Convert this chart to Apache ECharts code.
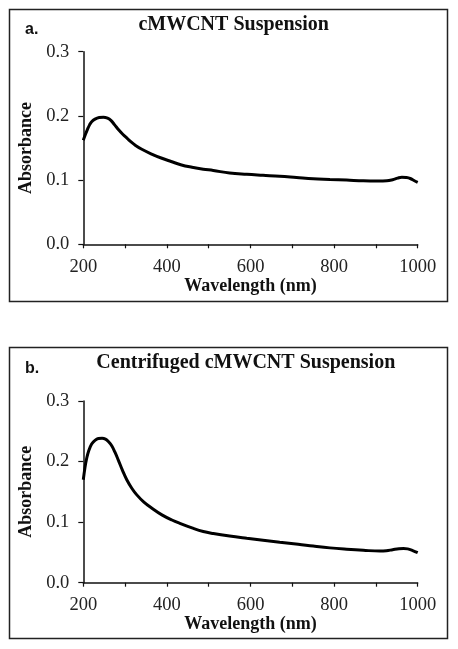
<!DOCTYPE html>
<html>
<head>
<meta charset="utf-8">
<script src="https://cdn.jsdelivr.net/npm/echarts@6/dist/echarts.min.js"></script>
<style>html,body{margin:0;padding:0;background:#fff}#c{width:458px;height:649px}</style>
</head>
<body>
<div id="c"></div>
<script>
// Panel a: cMWCNT Suspension
var wavelengthA = [200, 205, 210, 215, 220, 228, 238, 248, 258, 266, 275, 285, 295, 305, 315, 325, 340, 362, 388, 410, 435, 460, 487, 511, 550, 591, 630, 670, 710, 750, 790, 830, 870, 905, 926, 940, 952, 962, 972, 982, 992, 1000];
var absorbanceA = [0.162, 0.171, 0.179, 0.186, 0.191, 0.195, 0.1975, 0.198, 0.1965, 0.193, 0.186, 0.178, 0.171, 0.165, 0.159, 0.154, 0.148, 0.141, 0.134, 0.129, 0.1235, 0.120, 0.117, 0.115, 0.111, 0.109, 0.1075, 0.106, 0.104, 0.102, 0.101, 0.1, 0.0988, 0.0985, 0.0988, 0.1005, 0.103, 0.1045, 0.104, 0.1025, 0.099, 0.0965];
// Panel b: Centrifuged cMWCNT Suspension
var wavelengthB = [200, 204, 208, 213, 220, 228, 236, 245, 253, 260, 268, 276, 284, 294, 304, 316, 328, 345, 364, 388, 412, 431, 460, 487, 511, 550, 591, 630, 670, 714, 750, 790, 830, 870, 910, 925, 940, 955, 966, 976, 988, 1000];
var absorbanceB = [0.170, 0.190, 0.205, 0.218, 0.229, 0.235, 0.238, 0.2385, 0.237, 0.233, 0.226, 0.215, 0.202, 0.185, 0.170, 0.156, 0.145, 0.133, 0.123, 0.112, 0.1035, 0.098, 0.0905, 0.0845, 0.0812, 0.0770, 0.0733, 0.0700, 0.0667, 0.0635, 0.0605, 0.0575, 0.0553, 0.0535, 0.0522, 0.0528, 0.0545, 0.0562, 0.0566, 0.0558, 0.0530, 0.0495];
var xTicks = [200, 400, 600, 800, 1000];
var yTicks = [0.0, 0.1, 0.2, 0.3];
var titles = ['cMWCNT Suspension', 'Centrifuged cMWCNT Suspension'];
var panelLetters = ['a.', 'b.'];
var xName = 'Wavelength (nm)';
var yName = 'Absorbance';

function pairs(xs, ys){ return xs.map(function(x,i){ return [x, ys[i]]; }); }

var serif = '"Liberation Serif", "Times New Roman", serif';
var chart = echarts.init(document.getElementById('c'), null, {renderer:'canvas'});

function xAxisDef(gi){
  return {
    type:'value', gridIndex:gi, min:xTicks[0], max:xTicks[xTicks.length-1], interval:xTicks[1]-xTicks[0],
    name:xName, nameLocation:'middle', nameGap:31,
    nameTextStyle:{fontFamily:serif, fontWeight:'bold', fontSize:18, color:'#111'},
    axisLine:{show:true, lineStyle:{color:'#111', width:1.5}},
    axisTick:{show:true, length:4, lineStyle:{color:'#111', width:1.2}},
    minorTick:{show:true, splitNumber:2, length:4, lineStyle:{color:'#111', width:1.2}},
    splitLine:{show:false},
    axisLabel:{fontFamily:serif, fontSize:18.5, color:'#222', margin:13,
      formatter:function(v){ return String(v); }}
  };
}
function yAxisDef(gi){
  return {
    type:'value', gridIndex:gi, min:yTicks[0], max:yTicks[yTicks.length-1], interval:yTicks[1]-yTicks[0],
    name:yName, nameLocation:'middle', nameGap:46, nameRotate:90,
    nameTextStyle:{fontFamily:serif, fontWeight:'bold', fontSize:18, color:'#111'},
    axisLine:{show:true, lineStyle:{color:'#111', width:1.5}},
    axisTick:{show:true, length:5, lineStyle:{color:'#111', width:1.2}},
    splitLine:{show:false},
    axisLabel:{fontFamily:serif, fontSize:18.5, color:'#222', margin:14,
      formatter:function(v){ return v.toFixed(1); }}
  };
}

var option = {
  animation:false,
  backgroundColor:'#fff',
  grid:[
    {left:83.3, right:40.3, top:51.7, height:192.6},
    {left:83.3, right:40.3, top:401, height:181.7}
  ],
  xAxis:[xAxisDef(0), xAxisDef(1)],
  yAxis:[yAxisDef(0), yAxisDef(1)],
  series:[
    {type:'line', xAxisIndex:0, yAxisIndex:0, data:pairs(wavelengthA, absorbanceA),
     smooth:0.4, showSymbol:false, lineStyle:{color:'#000', width:3}},
    {type:'line', xAxisIndex:1, yAxisIndex:1, data:pairs(wavelengthB, absorbanceB),
     smooth:0.4, showSymbol:false, lineStyle:{color:'#000', width:3}}
  ],
  graphic:[
    {type:'rect', shape:{x:9.5, y:9.5, width:438, height:292}, style:{fill:null, stroke:'#222', lineWidth:1.5}},
    {type:'rect', shape:{x:9.5, y:347.5, width:438, height:291}, style:{fill:null, stroke:'#222', lineWidth:1.5}},
    {type:'text', x:233.7, y:25, style:{text:titles[0], font:'bold 20px ' + serif, fill:'#111', textAlign:'center', textVerticalAlign:'middle'}},
    {type:'text', x:245.8, y:362.5, style:{text:titles[1], font:'bold 20px ' + serif, fill:'#111', textAlign:'center', textVerticalAlign:'middle'}},
    {type:'text', x:25, y:30, style:{text:panelLetters[0], font:'bold 16px "Liberation Sans", Arial, sans-serif', fill:'#111', textAlign:'left', textVerticalAlign:'middle'}},
    {type:'text', x:25, y:368.5, style:{text:panelLetters[1], font:'bold 16px "Liberation Sans", Arial, sans-serif', fill:'#111', textAlign:'left', textVerticalAlign:'middle'}}
  ]
};
chart.setOption(option);
</script>
</body>
</html>
